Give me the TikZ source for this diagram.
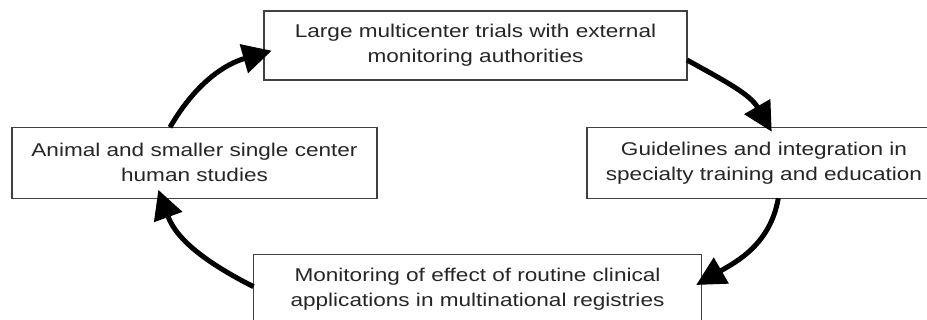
\documentclass[tikz,border=0pt]{standalone}
\usepackage{fontspec}
\setmainfont{Liberation Sans}[FakeStretch=1.22]
\usetikzlibrary{arrows.meta}
\begin{document}
\begin{tikzpicture}[x=1pt,y=1pt,
  box/.style={draw=black!75, line width=1.3pt, fill=white, align=center,
    inner sep=0pt, outer sep=0pt, text=black!85,
    font=\fontsize{18.5}{25}\selectfont},
  flow/.style={line width=5pt, -{Triangle[length=29pt,width=29pt]}}]
\useasboundingbox (0,0) rectangle (927,320);

% the four stages of the cycle
\node[box, minimum width=423pt, minimum height=69pt] (top) at (475.5,274.5)
  {Large multicenter trials with external\\monitoring authorities};
\node[box, minimum width=365pt, minimum height=71pt] (left) at (194.5,157.2)
  {Animal and smaller single center\\human studies};
\node[box, minimum width=354pt, minimum height=71pt] (right) at (764,157.2)
  {Guidelines and integration in\\specialty training and education};
\node[box, minimum width=448pt, minimum height=69pt] (bottom) at (477.5,31)
  {Monitoring of effect of routine clinical\\applications in multinational registries};

% curved arrows closing the cycle
\draw[flow] ([xshift=-24.5pt]left.north) to[out=60,in=196]
  ([xshift=7.7pt,yshift=-5.2pt]top.west);
\draw[flow] ([yshift=-14.5pt]top.east) to[out=-29,in=120]
  ([xshift=7.7pt,yshift=-4.4pt]right.north);
\draw[flow] ([xshift=14.3pt]right.south) to[out=260,in=30]
  ([xshift=-5.3pt,yshift=4pt]bottom.east);
\draw[flow] ([yshift=2.3pt]bottom.west) to[out=153,in=290]
  ([xshift=-36.2pt,yshift=8.5pt]left.south);
\end{tikzpicture}
\end{document}
